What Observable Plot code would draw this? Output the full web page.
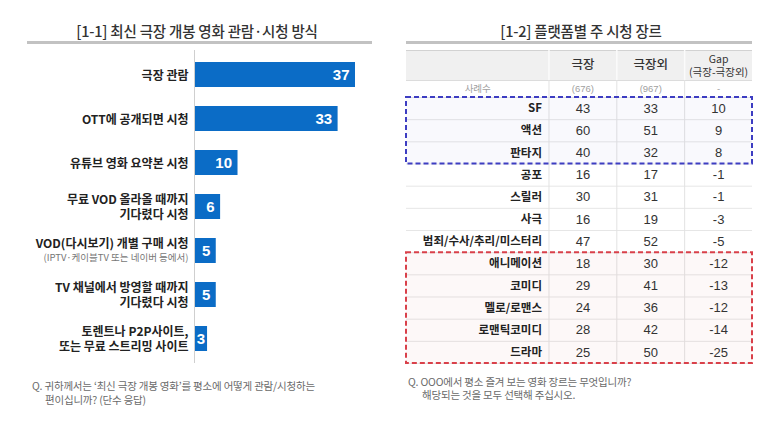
<!DOCTYPE html>
<html>
<head>
<meta charset="utf-8">
<script src="https://cdn.jsdelivr.net/npm/d3@7"></script>
<script src="https://cdn.jsdelivr.net/npm/@observablehq/plot@0.6"></script>
<style>
  html, body { margin: 0; padding: 0; background: #fff; }
  #wrap { position: relative; width: 780px; height: 425px; background: #fff;
          font-family: "Noto Sans CJK KR", "Noto Sans", sans-serif; overflow: hidden; }
  .title { position: absolute; top: 20px; font-size: 14.5px; font-weight: 500; color: #333;
           text-align: center; letter-spacing: -0.2px; }
  .rule { position: absolute; top: 41px; height: 3px; background: #c2c2c2; }
  .note { position: absolute; font-size: 10.5px; color: #6a6a6a; line-height: 12px; letter-spacing: -0.2px; white-space: nowrap; }
  .chart { position: absolute; }
</style>
</head>
<body>
<div id="wrap">
  <div class="title" style="left:2px;width:390px;">[1-1] 최신 극장 개봉 영화 관람·시청 방식</div>
  <div class="rule" style="left:27px;width:345px;"></div>
  <div class="title" style="left:390px;width:382px;">[1-2] 플랫폼별 주 시청 장르</div>
  <div class="rule" style="left:406px;width:346px;"></div>
  <div id="left" class="chart" style="left:0;top:50px;"></div>
  <div id="right" class="chart" style="left:390px;top:46px;"></div>
  <div class="note" style="left:32px;top:380px;">Q. 귀하께서는 ‘최신 극장 개봉 영화’를 평소에 어떻게 관람/시청하는</div>
  <div class="note" style="left:45px;top:394px;">편이십니까? (단수 응답)</div>
  <div class="note" style="left:408px;top:376px;">Q. OOO에서 평소 즐겨 보는 영화 장르는 무엇입니까?</div>
  <div class="note" style="left:422px;top:389px;">해당되는 것을 모두 선택해 주십시오.</div>
</div>
<script>
// ---------- DATA ----------
const methods = [
  "극장 관람",
  "OTT에 공개되면 시청",
  "유튜브 영화 요약본 시청",
  "무료 VOD 올라올 때까지\n기다렸다 시청",
  "VOD(다시보기) 개별 구매 시청",
  "TV 채널에서 방영할 때까지\n기다렸다 시청",
  "토렌트나 P2P사이트,\n또는 무료 스트리밍 사이트"
];
const methodNotes = ["", "", "", "", "(IPTV·케이블TV 또는 네이버 등에서)", "", ""];
const methodValues = [37, 33, 10, 6, 5, 5, 3];

const genres = ["SF", "액션", "판타지", "공포", "스릴러", "사극", "범죄/수사/추리/미스터리",
                "애니메이션", "코미디", "멜로/로맨스", "로맨틱코미디", "드라마"];
const theater    = [43, 60, 40, 16, 30, 16, 47, 18, 29, 24, 28, 25];
const nonTheater = [33, 51, 32, 17, 31, 19, 52, 30, 41, 36, 42, 50];
const gapValues  = [10, 9, 8, -1, -1, -3, -5, -12, -13, -12, -14, -25];
const columnLabels = ["극장", "극장외", "Gap\n(극장-극장외)"];
const sampleLabel = "사례수";
const sampleSizes = ["(676)", "(967)", "-"];
const topGroup = ["SF", "액션", "판타지"];
const bottomGroup = ["애니메이션", "코미디", "멜로/로맨스", "로맨틱코미디", "드라마"];

// ---------- LEFT: bar chart ----------
const leftData = methods.map((m, i) => ({method: m, note: methodNotes[i], value: methodValues[i]}));
const numFont = "Liberation Sans, Arial, sans-serif";
const BLUE = "#0b6cc6";

const left = Plot.plot({
  width: 390, height: 313,
  marginLeft: 194, marginRight: 35, marginTop: 0, marginBottom: 0,
  style: {background: "transparent", fontFamily: "Noto Sans CJK KR, sans-serif", overflow: "visible"},
  x: {domain: [0, 37], axis: null},
  y: {domain: methods, axis: null, paddingInner: 0.44, paddingOuter: 0.22},
  marks: [
    Plot.barX(leftData, {x: "value", y: "method", fill: BLUE}),
    Plot.ruleX([0], {stroke: "#cfcfcf", strokeWidth: 1}),
    Plot.text(leftData.filter(d => !d.note), {
      y: "method", text: "method", frameAnchor: "left", textAnchor: "end", dx: -6,
      fontSize: 12, fontWeight: "bold", fill: "#222", lineHeight: 1.22
    }),
    Plot.text(leftData.filter(d => d.note), {
      y: "method", text: "method", frameAnchor: "left", textAnchor: "end", dx: -6, dy: -7,
      fontSize: 12, fontWeight: "bold", fill: "#222"
    }),
    Plot.text(leftData.filter(d => d.note), {
      y: "method", text: "note", frameAnchor: "left", textAnchor: "end", dx: -6, dy: 7,
      fontSize: 9.5, fill: "#777"
    }),
    Plot.text(leftData.filter(d => d.value >= 5), {
      x: "value", y: "method", text: d => String(d.value), textAnchor: "end", dx: -6,
      fill: "white", fontWeight: "bold", fontSize: 15, fontFamily: numFont
    }),
    Plot.text(leftData.filter(d => d.value < 5), {
      x: d => d.value / 2, y: "method", text: d => String(d.value), textAnchor: "middle",
      fill: "white", fontWeight: "bold", fontSize: 15, fontFamily: numFont
    })
  ]
});
document.getElementById("left").appendChild(left);

// ---------- RIGHT: table ----------
// table geometry in column / row units
const colEdges = [0, 2.1, 3.1, 4.1, 5.1];
const colCenter = c => (colEdges[c] + colEdges[c + 1]) / 2;
const headerTop = -2.12, headerBottom = -0.77, sampleRow = -0.4;

const cells = genres.flatMap((g, i) => [
  {row: i, col: 1, v: theater[i]},
  {row: i, col: 2, v: nonTheater[i]},
  {row: i, col: 3, v: gapValues[i]}
]);
const rows = genres.map((g, i) => ({g, row: i}));
const groupBox = names => ({y1: genres.indexOf(names[0]), y2: genres.indexOf(names[names.length - 1]) + 1});

const right = Plot.plot({
  width: 390, height: 325,
  marginLeft: 16, marginRight: 28, marginTop: 4, marginBottom: 8,
  style: {background: "transparent", fontFamily: "Noto Sans CJK KR, sans-serif", overflow: "visible"},
  x: {domain: [colEdges[0], colEdges[4]], axis: null},
  y: {domain: [headerTop, genres.length], axis: null, reverse: true},
  marks: [
    // header background
    Plot.rect([0], {x1: colEdges[0], x2: colEdges[4], y1: headerTop, y2: headerBottom, fill: "#f0f0f0"}),
    Plot.ruleY([headerTop], {x1: colEdges[0], x2: colEdges[4], stroke: "#d2d2d2"}),
    Plot.ruleY([headerBottom], {x1: colEdges[0], x2: colEdges[4], stroke: "#dadada"}),
    // row separators
    Plot.ruleY(d3.range(0, genres.length + 1), {x1: colEdges[0], x2: colEdges[4], stroke: "#e6e6e6"}),
    // column separators
    Plot.ruleX(colEdges.slice(1, 4), {y1: headerBottom, y2: genres.length, stroke: "#e2e2e2"}),
    Plot.ruleX(colEdges.slice(1, 4), {y1: headerTop, y2: headerBottom, stroke: "#fbfbfb", strokeWidth: 1.5}),
    // group boxes
    Plot.rect([groupBox(topGroup)], {x1: colEdges[0], x2: colEdges[4], y1: "y1", y2: "y2",
      fill: "#4040c8", fillOpacity: 0.03, stroke: "#3d3dc2", strokeWidth: 2, strokeDasharray: "5,3"}),
    Plot.rect([groupBox(bottomGroup)], {x1: colEdges[0], x2: colEdges[4], y1: "y1", y2: "y2",
      fill: "#d8424a", fillOpacity: 0.04, stroke: "#d9404a", strokeWidth: 2, strokeDasharray: "5,3"}),
    // header labels
    Plot.text(columnLabels.slice(0, 2), {x: (d, i) => colCenter(i + 1), y: () => (headerTop + headerBottom) / 2,
      text: d => d, fontSize: 12.5, fontWeight: 500, fill: "#333"}),
    Plot.text(columnLabels.slice(2), {x: () => colCenter(3), y: () => (headerTop + headerBottom) / 2,
      text: d => d, fontSize: 10.5, fill: "#333", lineHeight: 1.2}),
    // sample row
    Plot.text([sampleLabel], {x: () => colCenter(0), y: () => sampleRow, text: d => d, fontSize: 9.5, fill: "#a0a0a0"}),
    Plot.text(sampleSizes, {x: (d, i) => colCenter(i + 1), y: () => sampleRow, text: d => d,
      fontSize: 9.5, fill: "#a0a0a0", fontFamily: numFont}),
    // genre labels
    Plot.text(rows, {x: () => colEdges[1], y: d => d.row + 0.5, text: "g", textAnchor: "end", dx: -7,
      fontSize: 11.5, fontWeight: "bold", fill: "#222"}),
    // values
    Plot.text(cells, {x: d => colCenter(d.col), y: d => d.row + 0.5, text: d => String(d.v),
      fontSize: 13, fill: "#333", fontFamily: numFont})
  ]
});
document.getElementById("right").appendChild(right);
</script>
</body>
</html>
